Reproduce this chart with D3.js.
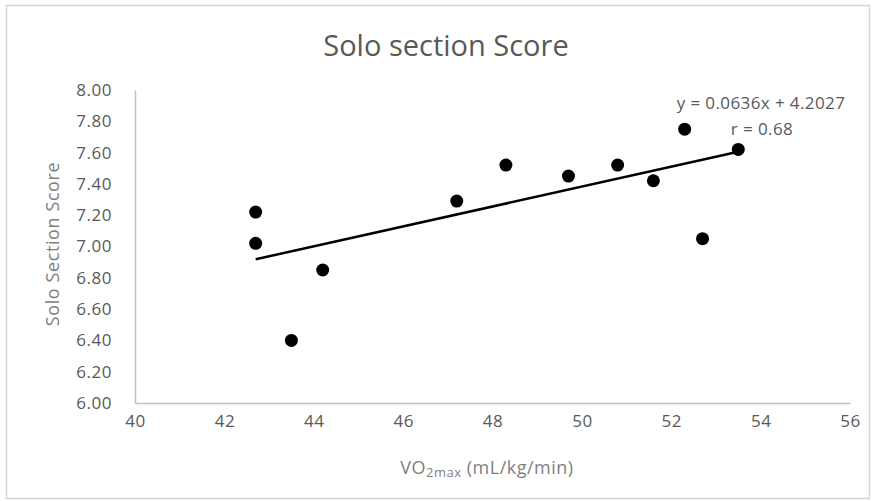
<!DOCTYPE html>
<html>
<head>
<meta charset="utf-8">
<script src="https://cdn.jsdelivr.net/npm/d3@7"></script>
<style>
  body { margin: 0; background: #fff; }
  text { font-family: "Open Sans", "Noto Sans", sans-serif; }
</style>
</head>
<body>
<svg id="chart"></svg>
<script>
// values
var vo2max = [42.7, 42.7, 43.5, 44.2, 47.2, 48.3, 49.7, 50.8, 51.6, 52.3, 52.7, 53.5]
var soloScore = [7.22, 7.02, 6.40, 6.85, 7.29, 7.52, 7.45, 7.52, 7.42, 7.75, 7.05, 7.62]
var xTicks = [40, 42, 44, 46, 48, 50, 52, 54, 56]
var yTicks = [6.0, 6.2, 6.4, 6.6, 6.8, 7.0, 7.2, 7.4, 7.6, 7.8, 8.0]
var slope = 0.0636
var intercept = 4.2027
var rValue = 0.68

var width = 873, height = 501
var margin = {top: 90, right: 23, bottom: 98, left: 135}

var svg = d3.select("#chart")
    .attr("width", width)
    .attr("height", height)

// chart frame
svg.append("rect")
    .attr("x", 6.5).attr("y", 5.5)
    .attr("width", 863).attr("height", 493)
    .attr("fill", "#fff")
    .attr("stroke", "#d4d4d4")
    .attr("stroke-width", 1.5)

var x = d3.scaleLinear().domain([40, 56]).range([margin.left, width - margin.right])
var y = d3.scaleLinear().domain([6, 8]).range([height - margin.bottom, margin.top])

var xAxis = svg.append("g")
    .attr("transform", "translate(0," + y(6) + ")")
    .call(d3.axisBottom(x).tickValues(xTicks).tickSize(0).tickPadding(12).tickFormat(d3.format("d")))
xAxis.select(".domain").attr("stroke", "#bfbfbf").attr("stroke-width", 1.5)
xAxis.selectAll("text").attr("font-size", 17).attr("fill", "#595959")
    .attr("font-family", "'Open Sans', sans-serif").attr("letter-spacing", 0.5)

var yAxis = svg.append("g")
    .attr("transform", "translate(" + x(40) + ",0)")
    .call(d3.axisLeft(y).tickValues(yTicks).tickSize(0).tickPadding(23).tickFormat(d3.format(".2f")))
yAxis.select(".domain").attr("stroke", "#bfbfbf").attr("stroke-width", 1.5)
yAxis.selectAll("text").attr("font-size", 17).attr("fill", "#595959")
    .attr("font-family", "'Open Sans', sans-serif").attr("letter-spacing", 0.5)

// title
svg.append("text")
    .attr("x", 446).attr("y", 56)
    .attr("text-anchor", "middle")
    .attr("font-size", 29)
    .attr("fill", "#595959")
    .text("Solo section Score")

// y axis title
svg.append("text")
    .attr("transform", "translate(59," + 244 + ") rotate(-90)")
    .attr("text-anchor", "middle")
    .attr("font-size", 18)
    .attr("letter-spacing", 0.6)
    .attr("fill", "#7f7f7f")
    .text("Solo Section Score")

// x axis title with subscript
var xt = svg.append("text")
    .attr("x", 487).attr("y", 474)
    .attr("text-anchor", "middle")
    .attr("font-size", 18)
    .attr("letter-spacing", 0.5)
    .attr("fill", "#7f7f7f")
xt.append("tspan").text("VO")
xt.append("tspan").attr("font-size", 13).attr("dy", 3).text("2max")
xt.append("tspan").attr("dy", -3).text(" (mL/kg/min)")

// trend line
var xExt = d3.extent(vo2max)
svg.append("line")
    .attr("x1", x(xExt[0])).attr("y1", y(slope * xExt[0] + intercept))
    .attr("x2", x(xExt[1])).attr("y2", y(slope * xExt[1] + intercept))
    .attr("stroke", "#000")
    .attr("stroke-width", 2.5)

// points
svg.append("g").selectAll("circle")
    .data(vo2max.map((v, i) => ({x: v, y: soloScore[i]})))
    .enter().append("circle")
    .attr("cx", d => x(d.x))
    .attr("cy", d => y(d.y))
    .attr("r", 6.5)
    .attr("fill", "#000")

// equation label
svg.append("text")
    .attr("x", 761).attr("y", 109)
    .attr("text-anchor", "middle")
    .attr("font-size", 17)
    .attr("letter-spacing", 0.4)
    .attr("fill", "#595959")
    .text("y = " + slope + "x + " + intercept)
svg.append("text")
    .attr("x", 762).attr("y", 135)
    .attr("text-anchor", "middle")
    .attr("font-size", 17)
    .attr("letter-spacing", 0.4)
    .attr("fill", "#595959")
    .text("r = " + rValue)
</script>
</body>
</html>
